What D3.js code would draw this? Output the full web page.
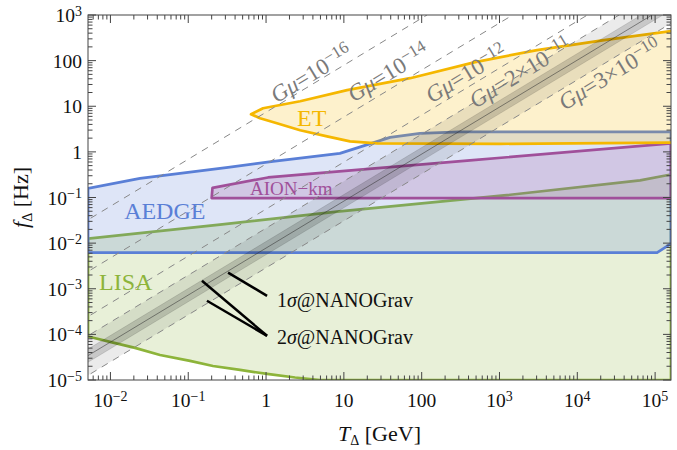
<!DOCTYPE html>
<html>
<head>
<meta charset="utf-8">
<script src="https://cdn.jsdelivr.net/npm/d3@7"></script>
<style>
  body { margin: 0; background: #fff; }
  text { font-family: "Liberation Serif", "Times New Roman", serif; }
</style>
</head>
<body>
<div id="chart"></div>
<script>
let width = 677, height = 450
let margin = {top: 15, right: 6, bottom: 70, left: 88}

// all points are [T (GeV), f (Hz)]
let lisaUpper = [[0.00515, 0.0125], [0.256, 0.0255], [8.2, 0.0492], [1146, 0.111], [64100, 0.237], [1.6e5, 0.32]]
let lisaLower = [[0.00515, 9.0e-5], [0.00989, 6.84e-5], [0.0207, 5.05e-5], [0.0434, 3.54e-5], [0.1055, 2.62e-5],
                 [0.208, 2.03e-5], [0.463, 1.66e-5], [1.03, 1.36e-5], [2.36, 1.135e-5], [4.94, 1e-5], [1.6e5, 1e-5]]

let aedgeUpper = [[0.00515, 0.158], [0.024, 0.262], [0.325, 0.456], [1.23, 0.618], [8.9, 0.927], [18.7, 1.39],
                  [39.3, 2.08], [95, 2.55], [312, 2.75], [1.6e5, 2.75]]
let aedgeLower = [[0.00515, 0.0062], [1.06e5, 0.0062], [1.6e5, 0.0098]]

let aionUpper = [[0.2, 0.097], [0.205, 0.162], [1.06, 0.275], [419, 0.65], [1.6e5, 1.54]]
let aionLower = [[0.2, 0.097], [1.6e5, 0.097]]

let etUpper = [[0.641, 6.67], [0.915, 9.04], [2.74, 12.9], [11.0, 22.5], [71, 41.2], [486, 92.7], [3040, 170],
               [22100, 282], [1.6e5, 445], [3e5, 520]]
let etLower = [[0.641, 6.67], [0.837, 5.45], [1.38, 4.23], [2.74, 2.97], [6.08, 2.19], [12.0, 1.70], [26.7, 1.54],
               [1018, 1.50], [1.6e5, 1.6], [3e5, 1.62]]

// cosmic string lines, G mu
let gmuNames = ["10|−16", "10|−14", "10|−12", "2×10|−11", "3×10|−10"]
let gmuLines = [
  [[0.004, 0.025], [117, 1000]],
  [[0.004, 1.84e-3], [1480, 1000]],
  [[0.004, 1.89e-4], [13500, 1000]],
  [[0.004, 7.2e-5], [34400, 1000]],
  [[0.004, 9.75e-6], [2.4e5, 1000]]
]
let gmuLabelAt = [[3.79, 53], [37, 55.9], [372, 53], [1840, 55.9], [26000, 51]]

// NANOGrav 1 sigma band edges and centre
let nano1Upper = [[0.004, 3.67e-5], [66100, 1000]]
let nano1Lower = [[0.004, 1.89e-5], [1.26e5, 1000]]
let nanoCentre = [[0.004, 2.64e-5], [91200, 1000]]

let xTickVals = [1e-2, 1e-1, 1, 10, 100, 1e3, 1e4, 1e5]
let xTickLabels = [["10", "−2"], ["10", "−1"], ["1", ""], ["10", ""], ["100", ""], ["10", "3"], ["10", "4"], ["10", "5"]]
let yTickVals = [1e-5, 1e-4, 1e-3, 1e-2, 1e-1, 1, 10, 100, 1e3]
let yTickLabels = [["10", "−5"], ["10", "−4"], ["10", "−3"], ["10", "−2"], ["10", "−1"], ["1", ""], ["10", ""], ["100", ""], ["10", "3"]]

let colors = {lisa: "#8db43a", aedge: "#5a7fd6", aion: "#a0509a", et: "#f5b700"}

let svg = d3.select("#chart").append("svg")
  .attr("width", width)
  .attr("height", height)

let x = d3.scaleLog().domain([0.00515, 1.6e5]).range([margin.left, width - margin.right])
let y = d3.scaleLog().domain([1e-5, 1e3]).range([height - margin.bottom, margin.top])

svg.append("clipPath").attr("id", "clip")
  .append("rect")
  .attr("x", margin.left).attr("y", margin.top)
  .attr("width", width - margin.left - margin.right)
  .attr("height", height - margin.top - margin.bottom)

let plot = svg.append("g").attr("clip-path", "url(#clip)")

let line = d3.line().x(d => x(d[0])).y(d => y(d[1]))

function region(upper, lower, color) {
  let pts = upper.concat(lower.slice().reverse())
  plot.append("path")
    .attr("d", line(pts) + "Z")
    .attr("fill", color)
    .attr("fill-opacity", 0.2)
    .attr("stroke", color)
    .attr("stroke-width", 2.7)
    .attr("stroke-linejoin", "round")
}

region(lisaUpper, lisaLower, colors.lisa)
region(aedgeUpper, aedgeLower, colors.aedge)
region(aionUpper, aionLower, colors.aion)
region(etUpper, etLower, colors.et)

// NANOGrav bands
let d2 = gmuLines[3], e2 = gmuLines[4]
plot.append("path")
  .attr("d", line(d2.concat(e2.slice().reverse())) + "Z")
  .attr("fill", "#000").attr("fill-opacity", 0.08)
plot.append("path")
  .attr("d", line(nano1Upper.concat(nano1Lower.slice().reverse())) + "Z")
  .attr("fill", "#000").attr("fill-opacity", 0.15)
  .attr("stroke", "#000").attr("stroke-opacity", 0.2).attr("stroke-width", 0.6)
plot.append("path")
  .attr("d", line(nanoCentre))
  .attr("fill", "none").attr("stroke", "#333").attr("stroke-opacity", 0.6).attr("stroke-width", 0.9)

// G mu dashed lines
gmuLines.forEach(l => {
  plot.append("path")
    .attr("d", line(l))
    .attr("fill", "none")
    .attr("stroke", "#888")
    .attr("stroke-width", 1)
    .attr("stroke-dasharray", "7,6")
})

// G mu labels, rotated along the lines
gmuNames.forEach((name, i) => {
  let l = gmuLines[i]
  let ang = Math.atan2(y(l[1][1]) - y(l[0][1]), x(l[1][0]) - x(l[0][0])) * 180 / Math.PI
  let px = x(gmuLabelAt[i][0]), py = y(gmuLabelAt[i][1])
  let parts = name.split("|")
  let t = plot.append("text")
    .attr("transform", `translate(${px},${py}) rotate(${ang})`)
    .attr("text-anchor", "middle")
    .attr("dy", "0.35em")
    .attr("fill", "#7a7a7a")
    .style("font-size", "23px")
  t.append("tspan").style("font-style", "italic").text("Gμ")
  t.append("tspan").text("=" + parts[0])
  t.append("tspan").attr("dy", "-0.45em").style("font-size", "17px").text(parts[1])
})

// region labels
function label(txt, at, color, size) {
  plot.append("text")
    .attr("x", x(at[0])).attr("y", y(at[1]))
    .attr("fill", color)
    .style("font-size", size + "px")
    .text(txt)
}
label("ET", [2.5, 3.63], colors.et, 24)
label("AEDGE", [0.015, 0.0345], colors.aedge, 24)
label("AION−km", [0.622, 0.1107], colors.aion, 19)
label("LISA", [0.00713, 9.5e-4], colors.lisa, 24)

// NANOGrav annotations
let pointers = [
  [[0.325, 2.25e-3], [1.03, 7.0e-4]],
  [[0.150, 1.5e-3], [1.03, 9.3e-5]],
  [[0.174, 5.45e-4], [1.03, 9.3e-5]]
]
pointers.forEach(p => {
  plot.append("path").attr("d", line(p))
    .attr("stroke", "#000").attr("stroke-width", 2.5).attr("fill", "none")
})
let nanoLabels = [["1", [1.38, 4.0e-4]], ["2", [1.38, 6.2e-5]]]
nanoLabels.forEach(n => {
  let t = plot.append("text")
    .attr("x", x(n[1][0])).attr("y", y(n[1][1]))
    .style("font-size", "20px").attr("fill", "#111")
  t.append("tspan").text(n[0])
  t.append("tspan").style("font-style", "italic").text("σ")
  t.append("tspan").text("@NANOGrav")
})

// frame and ticks
let x0 = margin.left, x1 = width - margin.right
let y0 = height - margin.bottom, y1 = margin.top
let axisColor = "#444"
svg.append("rect")
  .attr("x", x0).attr("y", y1).attr("width", x1 - x0).attr("height", y0 - y1)
  .attr("fill", "none").attr("stroke", axisColor).attr("stroke-width", 1)

let isMajor = v => Math.abs(Math.log10(v) - Math.round(Math.log10(v))) < 1e-6
let ticks = svg.append("g").attr("stroke", axisColor).attr("stroke-width", 1)
x.ticks().forEach(v => {
  let px = x(v), len = isMajor(v) ? 8 : 4.5
  ticks.append("line").attr("x1", px).attr("x2", px).attr("y1", y0).attr("y2", y0 - len)
  ticks.append("line").attr("x1", px).attr("x2", px).attr("y1", y1).attr("y2", y1 + len)
})
y.ticks().forEach(v => {
  let py = y(v), len = isMajor(v) ? 8 : 4.5
  ticks.append("line").attr("x1", x0).attr("x2", x0 + len).attr("y1", py).attr("y2", py)
  ticks.append("line").attr("x1", x1).attr("x2", x1 - len).attr("y1", py).attr("y2", py)
})

function powLabel(sel, lab) {
  sel.append("tspan").text(lab[0])
  if (lab[1]) sel.append("tspan").attr("dy", "-0.45em").style("font-size", "14px").text(lab[1])
}
xTickVals.forEach((v, i) => {
  let t = svg.append("text")
    .attr("x", x(v)).attr("y", 407)
    .attr("text-anchor", "middle")
    .style("font-size", "19.5px").attr("fill", "#111")
  powLabel(t, xTickLabels[i])
})
yTickVals.forEach((v, i) => {
  let t = svg.append("text")
    .attr("x", 82).attr("y", y(v) + 7)
    .attr("text-anchor", "end")
    .style("font-size", "19.5px").attr("fill", "#111")
  powLabel(t, yTickLabels[i])
})

// axis titles
let xt = svg.append("text")
  .attr("x", (x0 + x1) / 2).attr("y", 441)
  .attr("text-anchor", "middle")
  .style("font-size", "22px").attr("fill", "#111")
xt.append("tspan").style("font-style", "italic").text("T")
xt.append("tspan").attr("dy", "4").style("font-size", "14px").text("Δ")
xt.append("tspan").attr("dy", "-4").text(" [GeV]")

let yt = svg.append("text")
  .attr("transform", `translate(28,${(y0 + y1) / 2}) rotate(-90)`)
  .attr("text-anchor", "middle")
  .style("font-size", "22px").attr("fill", "#111")
yt.append("tspan").style("font-style", "italic").text("f")
yt.append("tspan").attr("dy", "4").style("font-size", "14px").text("Δ")
yt.append("tspan").attr("dy", "-4").text(" [Hz]")
</script>
</body>
</html>
